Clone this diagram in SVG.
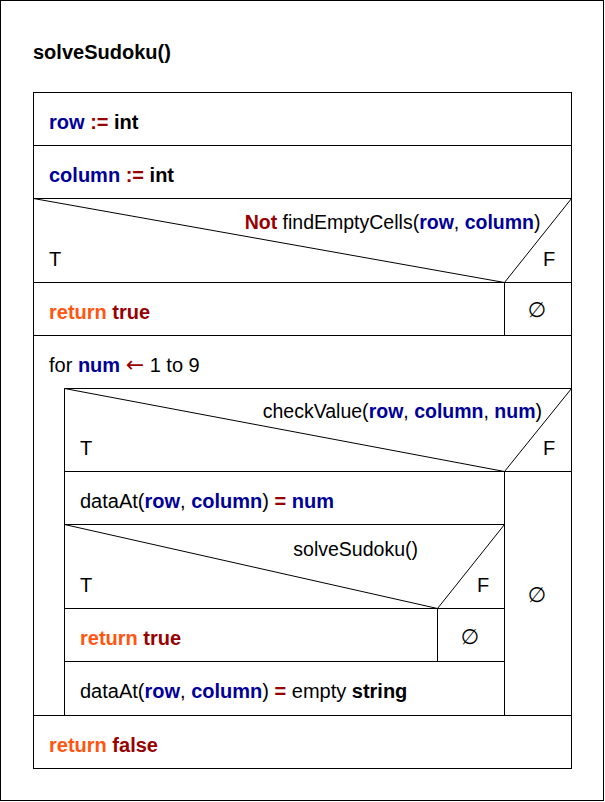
<svg xmlns="http://www.w3.org/2000/svg" width="605" height="802" viewBox="0 0 605 802">
<style>
.t{font-family:"Liberation Sans",Arial,sans-serif;font-size:20px;fill:#000}
.c{font-size:19.5px}
.b{font-weight:bold}
.v{fill:#000099;font-weight:bold}
.k{fill:#990000;font-weight:bold}
.a{fill:#990000;font-family:"DejaVu Sans",sans-serif;font-size:22px}
.r{fill:#ff5511;font-weight:bold}
.e{font-family:"DejaVu Sans",sans-serif;font-size:21px;fill:#000;text-anchor:middle}
.ln{fill:none;stroke:#000;stroke-width:1}
</style>
<rect x="0.5" y="0.5" width="603" height="800" fill="#fff" stroke="#000"/>
<g id="title"><text class="t b" x="33" y="59">solveSudoku()</text></g>
<g id="connectors">
<rect class="ln" x="33.5" y="92.5" width="538" height="676"/>
</g>
<g id="n_row"><line class="ln" x1="33" y1="145.5" x2="571" y2="145.5"/><text class="t" x="49" y="129"><tspan class="v">row</tspan> <tspan class="k">:=</tspan> <tspan class="b">int</tspan></text></g>
<g id="n_column"><line class="ln" x1="33" y1="198.5" x2="571" y2="198.5"/><text class="t" x="49" y="182"><tspan class="v">column</tspan> <tspan class="k">:=</tspan> <tspan class="b">int</tspan></text></g>
<g id="n_if1">
<polyline class="ln" points="33.5,198.5 504.5,282.5 571.5,198.5"/>
<line class="ln" x1="33" y1="282.5" x2="571" y2="282.5"/>
<text class="t c" x="540.5" y="229" text-anchor="end"><tspan class="k">Not</tspan> findEmptyCells(<tspan class="v">row</tspan>, <tspan class="v">column</tspan>)</text>
<text class="t" x="49" y="266">T</text>
<text class="t" x="543" y="266">F</text>
</g>
<g id="n_ret1"><line class="ln" x1="504.5" y1="282" x2="504.5" y2="335"/><line class="ln" x1="33" y1="335.5" x2="571" y2="335.5"/><text class="t" x="49" y="319"><tspan class="r">return</tspan> <tspan class="k">true</tspan></text></g>
<g id="n_empty1"><text class="e" x="537" y="317">∅</text></g>
<g id="n_for">
<polyline class="ln" points="64.5,715 64.5,388.5 571,388.5"/>
<line class="ln" x1="33" y1="715.5" x2="571" y2="715.5"/>
<text class="t" x="49" y="372">for <tspan class="v">num</tspan> <tspan class="a">←</tspan> 1 to 9</text>
</g>
<g id="n_if2">
<polyline class="ln" points="64.5,388.5 504.5,471.5 571.5,388.5"/>
<line class="ln" x1="64" y1="471.5" x2="571" y2="471.5"/>
<line class="ln" x1="504.5" y1="471" x2="504.5" y2="715"/>
<text class="t c" x="542" y="418" text-anchor="end">checkValue(<tspan class="v">row</tspan>, <tspan class="v">column</tspan>, <tspan class="v">num</tspan>)</text>
<text class="t" x="80" y="455">T</text>
<text class="t" x="543" y="455">F</text>
</g>
<g id="n_set"><line class="ln" x1="64" y1="524.5" x2="504" y2="524.5"/><text class="t" x="80" y="508">dataAt(<tspan class="v">row</tspan>, <tspan class="v">column</tspan>) <tspan class="k">=</tspan> <tspan class="v">num</tspan></text></g>
<g id="n_if3">
<polyline class="ln" points="64.5,524.5 437.5,608.5 504.5,524.5"/>
<line class="ln" x1="64" y1="608.5" x2="504" y2="608.5"/>
<text class="t c" x="418" y="556" text-anchor="end">solveSudoku()</text>
<text class="t" x="80" y="592">T</text>
<text class="t" x="477" y="592">F</text>
</g>
<g id="n_ret2"><line class="ln" x1="437.5" y1="608" x2="437.5" y2="661"/><line class="ln" x1="64" y1="661.5" x2="504" y2="661.5"/><text class="t" x="80" y="645"><tspan class="r">return</tspan> <tspan class="k">true</tspan></text></g>
<g id="n_empty2"><text class="e" x="470" y="644">∅</text></g>
<g id="n_reset"><text class="t" x="80" y="698">dataAt(<tspan class="v">row</tspan>, <tspan class="v">column</tspan>) <tspan class="k">=</tspan> empty <tspan class="b">string</tspan></text></g>
<g id="n_empty3"><text class="e" x="537" y="602">∅</text></g>
<g id="n_retf"><text class="t" x="49" y="752"><tspan class="r">return</tspan> <tspan class="k">false</tspan></text></g>
</svg>
